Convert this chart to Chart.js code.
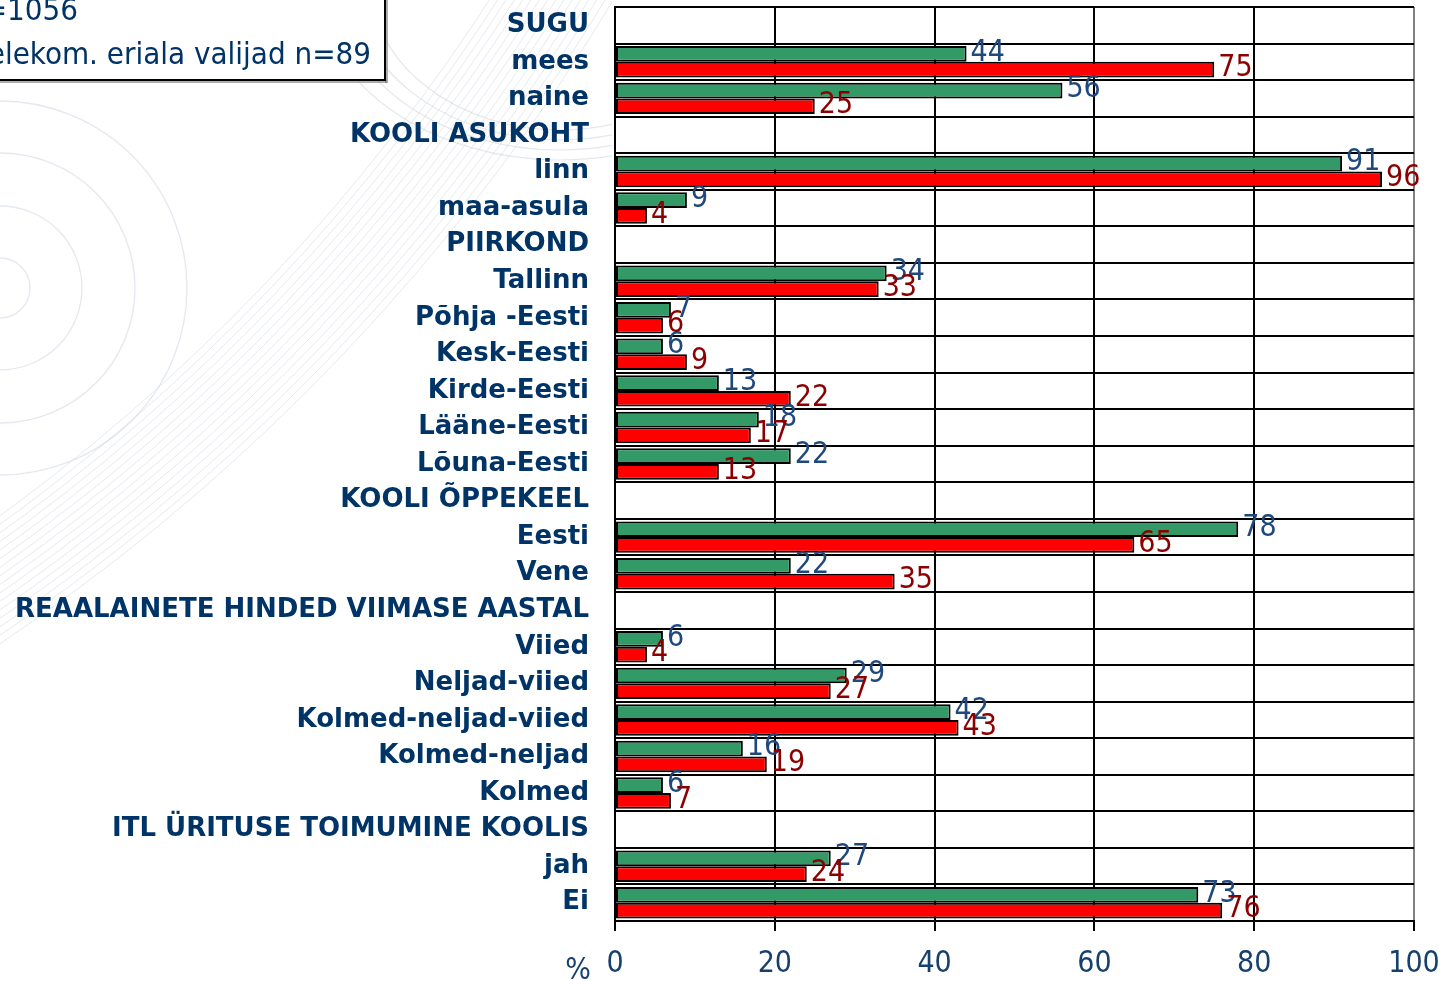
<!DOCTYPE html>
<html>
<head>
<meta charset="utf-8">
<script src="https://cdn.jsdelivr.net/npm/chart.js@4.4.1/dist/chart.umd.min.js"></script>
<style>
  html, body { margin: 0; padding: 0; background: #ffffff; }
  #wrap { width: 1443px; height: 981px; position: relative; }
</style>
</head>
<body>
<div id="wrap"><canvas id="c" width="1443" height="981"></canvas></div>
<script>
// ---- data ----
const categories = [
  'SUGU', 'mees', 'naine',
  'KOOLI ASUKOHT', 'linn', 'maa-asula',
  'PIIRKOND', 'Tallinn', 'Põhja -Eesti', 'Kesk-Eesti', 'Kirde-Eesti', 'Lääne-Eesti', 'Lõuna-Eesti',
  'KOOLI ÕPPEKEEL', 'Eesti', 'Vene',
  'REAALAINETE HINDED VIIMASE AASTAL', 'Viied', 'Neljad-viied', 'Kolmed-neljad-viied', 'Kolmed-neljad', 'Kolmed',
  'ITL ÜRITUSE TOIMUMINE KOOLIS', 'jah', 'Ei'
];
const allRespondents = [null, 44, 56, null, 91, 9, null, 34, 7, 6, 13, 18, 22, null, 78, 22, null, 6, 29, 42, 16, 6, null, 27, 73];
const telekomChoosers = [null, 75, 25, null, 96, 4, null, 33, 6, 9, 22, 17, 13, null, 65, 35, null, 4, 27, 43, 19, 7, null, 24, 76];
const seriesNames = ['Kõik n=1056', 'Telekom. eriala valijad n=89'];
const xTickValues = [0, 20, 40, 60, 80, 100];
const axisUnit = '%';

// ---- styles ----
const COND = "'DejaVu Sans Condensed', 'DejaVu Sans', sans-serif";
const WIDE = "'DejaVu Sans', sans-serif";
const barColors = ['#339966', '#FF0000'];
const labelColors = ['#1F497D', '#8B0000'];
const catColor = '#003366';
const tickColor = '#17406D';

const bgPlugin = {
  id: 'bg',
  beforeDraw(chart) {
    const ctx = chart.ctx;
    ctx.save();
    ctx.fillStyle = '#ffffff';
    ctx.fillRect(0, 0, chart.width, chart.height);
    ctx.beginPath();
    ctx.rect(0, 0, 612, chart.height);
    ctx.clip();
    ctx.lineWidth = 1.3;
    // concentric rings
    ctx.strokeStyle = 'rgba(205,213,225,0.55)';
    [30, 82, 135, 187].forEach(r => {
      ctx.beginPath(); ctx.arc(0, 288, r, 0, Math.PI * 2); ctx.stroke();
    });
    // sweeping bundle of arcs
    ctx.strokeStyle = 'rgba(205,212,222,0.5)';
    ctx.lineWidth = 1;
    for (let r = 1950; r <= 2060; r += 7) {
      ctx.beginPath(); ctx.arc(-1146, -1062, r, 0, Math.PI / 2); ctx.stroke();
    }
    // top arcs
    ctx.strokeStyle = 'rgba(205,212,222,0.55)';
    ctx.lineWidth = 1.2;
    for (let k = 0; k < 4; k++) {
      ctx.beginPath(); ctx.ellipse(560, -20, 190 + k * 18, 150 + k * 10, 0, 0, Math.PI * 2); ctx.stroke();
    }
    ctx.restore();
  }
};

const overlayPlugin = {
  id: 'overlay',
  afterDatasetsDraw(chart) {
    const ctx = chart.ctx;
    ctx.save();
    ctx.font = '30px ' + COND;
    ctx.textAlign = 'left';
    ctx.textBaseline = 'middle';
    chart.data.datasets.forEach((ds, i) => {
      const meta = chart.getDatasetMeta(i);
      meta.data.forEach((el, j) => {
        const v = ds.data[j];
        if (v === null || v === undefined) return;
        ctx.fillStyle = labelColors[i];
        ctx.fillText(String(v), el.x + 4, el.y - 1);
      });
    });
    ctx.restore();
  },
  afterDraw(chart) {
    const ctx = chart.ctx;
    ctx.save();
    // legend box (partly outside the picture)
    ctx.fillStyle = 'rgba(120,120,120,0.6)';
    ctx.fillRect(-20, 80, 407, 3);
    ctx.fillRect(385, -20, 3, 103);
    ctx.fillStyle = '#ffffff';
    ctx.fillRect(-20, -20, 405, 100);
    ctx.strokeStyle = '#000000';
    ctx.lineWidth = 2;
    ctx.strokeRect(-20, -20, 405, 100);
    ctx.font = '31px ' + COND;
    ctx.fillStyle = catColor;
    ctx.textAlign = 'right';
    ctx.textBaseline = 'alphabetic';
    ctx.fillText(seriesNames[0], 78, 20);
    ctx.fillText(seriesNames[1], 371, 64);
    // unit label
    ctx.font = '30px ' + COND;
    ctx.fillStyle = tickColor;
    ctx.textAlign = 'center';
    ctx.fillText(axisUnit, 578, 979);
    ctx.restore();
  }
};

new Chart(document.getElementById('c'), {
  type: 'bar',
  data: {
    labels: categories,
    datasets: [
      { label: seriesNames[0], data: allRespondents, backgroundColor: barColors[0], borderColor: '#000000', borderWidth: 2, borderSkipped: false },
      { label: seriesNames[1], data: telekomChoosers, backgroundColor: barColors[1], borderColor: '#000000', borderWidth: 2, borderSkipped: false }
    ]
  },
  options: {
    indexAxis: 'y',
    responsive: false,
    animation: false,
    devicePixelRatio: 1,
    categoryPercentage: 0.86,
    barPercentage: 1.0,
    layout: { padding: { top: 7, right: 29, bottom: 0, left: 0 } },
    plugins: { legend: { display: false }, tooltip: { enabled: false } },
    scales: {
      x: {
        min: 0, max: 100,
        afterBuildTicks(scale) { scale.ticks = xTickValues.map(v => ({ value: v })); },
        afterFit(scale) { scale.height = 60; scale.paddingLeft = 0; scale.paddingRight = 0; },
        ticks: { color: tickColor, font: { size: 30, family: COND }, padding: 15, maxRotation: 0 },
        grid: {
          color: (c) => (c.tick && c.tick.value === 100) ? '#808080' : '#000000',
          lineWidth: 2, tickLength: 10, tickColor: '#000000', drawTicks: true
        },
        border: { display: true, color: '#000000', width: 2 }
      },
      y: {
        afterFit(scale) { scale.width = 615; scale.paddingTop = 0; scale.paddingBottom = 0; },
        ticks: { color: catColor, font: { size: 26, weight: 'bold', family: WIDE }, padding: 26, autoSkip: false },
        grid: { color: '#000000', lineWidth: 2, offset: true, drawTicks: false },
        border: { display: true, color: '#000000', width: 2 }
      }
    }
  },
  plugins: [bgPlugin, overlayPlugin]
});
</script>
</body>
</html>
